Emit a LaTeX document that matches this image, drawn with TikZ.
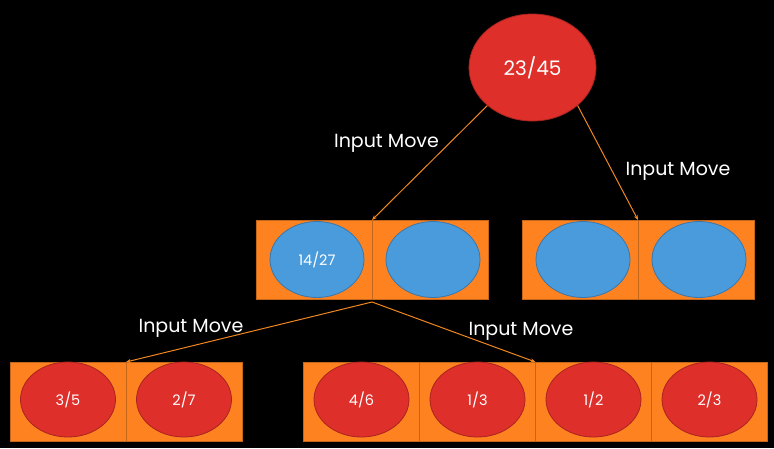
\documentclass[tikz,border=0pt]{standalone}
\usepackage{fontspec}
\setmainfont{Poppins}
\usepackage{tikz}
\usetikzlibrary{positioning,shapes.geometric,arrows.meta}
\definecolor{bgblack}{HTML}{000000}
\definecolor{boxorange}{HTML}{FF8220}
\definecolor{boxedge}{HTML}{C4661A}
\definecolor{nodered}{HTML}{DF2F2A}
\definecolor{rededge}{HTML}{A8241E}
\definecolor{nodeblue}{HTML}{4A9BDB}
\definecolor{blueedge}{HTML}{3B76A8}
\definecolor{moveline}{HTML}{F0871F}

\begin{document}
\begin{tikzpicture}[y=-1pt,x=1pt,
	cell/.style={draw=boxedge, line width=1pt, fill=boxorange, minimum width=116pt, minimum height=79pt, inner sep=0pt, outer sep=0pt},
	bluestate/.style={ellipse, draw=blueedge, line width=0.8pt, fill=nodeblue, minimum width=94pt, minimum height=76pt, inner sep=0pt, text=white, font=\fontsize{14.5}{16}\selectfont},
	redstate/.style={ellipse, draw=rededge, line width=0.8pt, fill=nodered, minimum width=95pt, minimum height=75pt, inner sep=0pt, text=white, font=\fontsize{14.5}{16}\selectfont},
	move/.style={draw=moveline, line width=1pt, -{Stealth[length=5pt,width=4pt]}},
	movetext/.style={text=white, font=\fontsize{19}{21}\selectfont}]

	\fill[bgblack] (0,0) rectangle (774,448);
	\useasboundingbox (0,0) rectangle (774,448);

	% root
	\node[ellipse, draw=rededge, line width=0.8pt, fill=nodered, minimum width=127pt, minimum height=107pt, inner sep=0pt, text=white, font=\fontsize{20}{22}\selectfont] (root) at (532.5,67.5) {23/45};

	% middle row
	\node[cell] (m1) at (314,259.5) {};
	\node[cell, right=0pt of m1] (m2) {};
	\node[cell] (m3) at (580,259.5) {};
	\node[cell, right=0pt of m3] (m4) {};
	\node[bluestate] (e1) at ([xshift=3pt]m1) {14/27};
	\node[bluestate] (e2) at ([xshift=3pt]m2) {};
	\node[bluestate] (e3) at ([xshift=3pt]m3) {};
	\node[bluestate] (e4) at ([xshift=3pt]m4) {};

	% bottom row
	\node[cell] (b1) at (68,401.5) {};
	\node[cell, right=0pt of b1] (b2) {};
	\node[cell] (b3) at (361.5,401.5) {};
	\node[cell, right=0pt of b3] (b4) {};
	\node[cell, right=0pt of b4] (b5) {};
	\node[cell, right=0pt of b5] (b6) {};
	\node[redstate] (r1) at ([yshift=2pt]b1) {3/5};
	\node[redstate] (r2) at ([yshift=2pt]b2) {2/7};
	\node[redstate] (r3) at ([yshift=2pt]b3) {4/6};
	\node[redstate] (r4) at ([yshift=2pt]b4) {1/3};
	\node[redstate] (r5) at ([yshift=2pt]b5) {1/2};
	\node[redstate] (r6) at ([yshift=2pt]b6) {2/3};

	\coordinate (split) at ([yshift=-3pt]m1.south east);

	\draw[move] (root.south west) -- (m1.north east);
	\draw[move] (root.south east) -- (m3.north east);
	\draw[move] (split) -- (b1.north east);
	\draw[move] (split) -- (b4.north east);

	\node[movetext] (lblA) at (386.5,143) {Input Move};
	\node[movetext] (lblB) at (678,171) {Input Move};
	\node[movetext] (lblC) at (191,328) {Input Move};
	\node[movetext] (lblD) at (521,331) {Input Move};
\end{tikzpicture}
\end{document}
